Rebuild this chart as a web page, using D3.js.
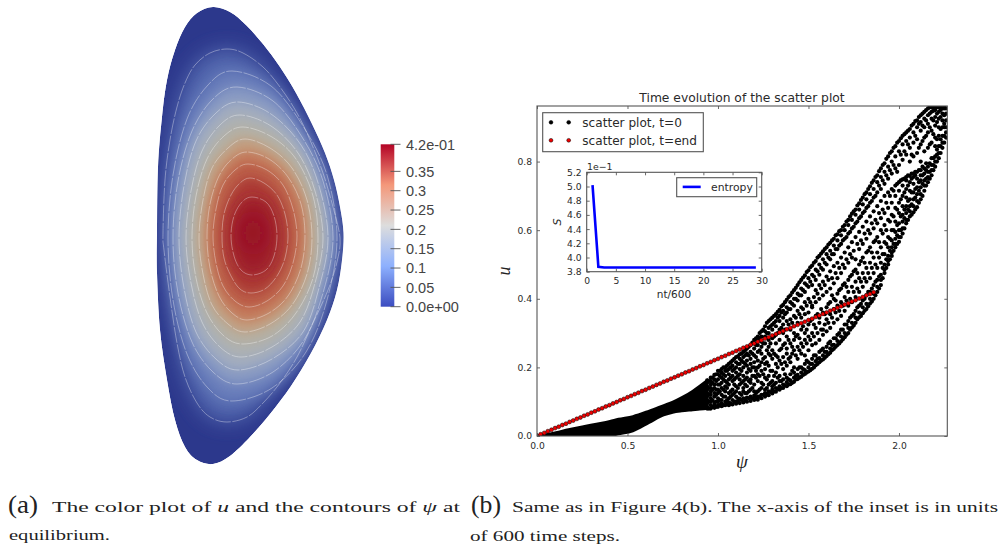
<!DOCTYPE html>
<html>
<head>
<meta charset="utf-8">
<script src="https://cdn.jsdelivr.net/npm/d3@7"></script>
<style>
  html, body { margin: 0; background: #fff; }
  svg { display: block; }
  .mpl text { font-family: "DejaVu Sans", sans-serif; fill: #2a2a2a; }
  .cap { font-family: "Liberation Serif", serif; fill: #222; }
  .math { font-family: "Liberation Serif", serif; font-style: italic; fill: #222; }
</style>
</head>
<body>
<svg id="fig" width="1001" height="547"></svg>
<script>
// ---- left panel, values (r, z in read-off units) ----
const plasmaOutline = [[56,0],[73,5],[89,18],[106,37],[123,60],[139,86],[155,117],[168,146],[177,173],[183,200],[186.5,226],[185,253],[180,283],[170,313],[154,346],[134,379],[113,407],[93,430],[73,449],[56,457],[40,453],[28,440],[18,413],[10,373],[3,323],[0,266],[0,226],[1,160],[5,110],[10,73],[18,43],[28,20],[40,6]];

const contourRings = [
  [[70,42],[86,46],[106,60],[123,80],[140,106],[153,133],[166,166],[176,200],[183,231],[180,255],[171,283],[156,316],[140,350],[123,376],[106,396],[90,410],[70,415],[53,410],[40,396],[28,370],[20,336],[13,290],[7,243],[6,226],[8,173],[13,133],[20,100],[28,76],[38,58],[53,46]],
  [[75,64],[114,79],[146,119],[170,168],[180,231],[170,293],[149,345],[115,381],[75,394],[51,381],[30,347],[16,293],[11,231],[16,168],[30,112],[51,78]],
  [[80,80],[116,94],[145,130],[166,174],[176,231],[166,286],[147,333],[116,365],[80,377],[56,365],[35,335],[21,286],[16,231],[21,174],[35,124],[56,92]],
  [[81,95],[114,107],[144,138],[162,179],[171,231],[162,281],[146,325],[115,352],[81,363],[59,352],[39,325],[27,281],[22,231],[27,179],[39,134],[59,106]],
  [[83,108],[114,119],[141,146],[158,184],[166,231],[158,276],[143,315],[115,340],[84,350],[63,340],[45,315],[34,276],[29,231],[34,184],[45,144],[63,118]],
  [[86,120],[115,130],[139,152],[156,189],[161,231],[156,271],[139,306],[115,329],[86,337],[67,329],[50,306],[39,271],[35,231],[39,189],[50,152],[67,129]],
  [[88,132],[113,141],[135,161],[150,193],[155,231],[150,267],[135,298],[113,317],[88,325],[71,317],[55,298],[46,267],[42,231],[46,193],[55,161],[71,141]],
  [[90,145],[112,152],[131,170],[144,197],[148,229],[144,261],[131,289],[112,306],[90,313],[75,306],[62,289],[53,261],[50,229],[53,197],[62,169],[75,152]],
  [[91,157],[110,163],[126,178],[136,202],[140,229],[136,256],[126,279],[110,294],[92,300],[78,294],[66,279],[59,256],[56,229],[59,202],[66,178],[78,163]],
  [[93,171],[107,176],[120,188],[128,207],[131,229],[128,251],[120,269],[108,282],[94,286],[83,282],[74,269],[67,251],[65,229],[67,207],[74,188],[83,176]],
  [[95,190],[109,195],[117,209],[120,229],[117,249],[109,263],[95,268],[84,263],[77,249],[74,229],[77,209],[85,195]]
];
const ringU = [.07,.10,.13,.155,.18,.205,.24,.275,.31,.35,.385];
const peakRing = [[96,209],[106,226],[96,243],[86,226]];
const peakU = .41;

const fieldLevels = [0,.04,.08,.12,.16,.2,.24,.28,.33,.38,.42];
const fieldColors = ["#2c388c","#3e50a0","#5a6eb4","#7d91c3","#a5afbe","#b4b2a5","#c39b7d","#c37355","#b44b3c","#a0232d","#91051e"];

const barTicks = [0,.05,.1,.15,.2,.25,.3,.35,.42];
const barLabels = ["0.0e+00","0.05","0.1","0.15","0.2","0.25","0.3","0.35","4.2e-01"];
const barLevels = [0,.105,.21,.315,.42];
const barColors = ["#3b4cc0","#8db0fe","#dddddd","#f4987a","#b40426"];

// ---- right panel ----
const denseBandPsi = [0,.08,.16,.25,.35,.403,.45,.53,.62,.70,.75,.80,.86,.90,.94];
const denseBandHigh = [0,.008,.018,.028,.038,.044,.05,.058,.074,.09,.10,.113,.132,.147,.163];
const denseBandLow = [0,0,0,0,0,0,.005,.014,.038,.06,.068,.072,.075,.077,.079];

const scatterColumns = [
  [.94,[.08,.085,.095,.105,.115,.125,.135,.145,.155,.162]],
  [.96,[.08,.09,.10,.11,.12,.13,.14,.15,.16,.17]],
  [.98,[.082,.09,.098,.115,.125,.14,.15,.165,.178]],
  [1.00,[.085,.09,.10,.11,.125,.135,.15,.165,.18,.19]],
  [1.02,[.087,.095,.105,.12,.14,.155,.17,.185,.195]],
  [1.04,[.09,.10,.115,.13,.145,.16,.175,.19,.20]],
  [1.06,[.09,.098,.11,.125,.15,.165,.18,.195,.21]],
  [1.08,[.092,.105,.12,.135,.16,.175,.19,.205,.22]],
  [1.10,[.094,.10,.115,.13,.145,.17,.185,.20,.215,.23]],
  [1.12,[.096,.108,.125,.15,.165,.18,.195,.21,.225,.238]],
  [1.14,[.098,.11,.13,.14,.16,.175,.20,.215,.23,.245]],
  [1.16,[.10,.112,.125,.145,.17,.185,.205,.22,.24,.255]],
  [1.18,[.102,.115,.135,.155,.165,.19,.21,.225,.245,.265]],
  [1.20,[.105,.118,.13,.15,.175,.20,.215,.235,.255,.27,.28]],
  [1.22,[.106,.115,.13,.16,.18,.20,.22,.245,.265,.28,.29]],
  [1.24,[.11,.12,.14,.155,.19,.215,.24,.26,.275,.29,.305]],
  [1.26,[.115,.125,.135,.17,.195,.21,.23,.27,.29,.305,.32]],
  [1.28,[.119,.13,.15,.175,.205,.24,.26,.28,.30,.315,.335]],
  [1.30,[.124,.135,.145,.16,.19,.225,.25,.285,.31,.325,.345]],
  [1.32,[.129,.14,.155,.185,.21,.235,.27,.295,.32,.335,.355]],
  [1.34,[.135,.145,.16,.175,.22,.25,.28,.31,.335,.35,.368]],
  [1.36,[.14,.15,.165,.195,.23,.265,.30,.325,.345,.365,.382]],
  [1.38,[.145,.157,.17,.205,.24,.255,.29,.335,.36,.375,.397]],
  [1.40,[.151,.162,.18,.215,.23,.27,.31,.34,.37,.39,.41]],
  [1.42,[.158,.17,.185,.20,.25,.28,.30,.35,.38,.40,.425]],
  [1.44,[.166,.178,.195,.225,.26,.295,.33,.365,.395,.415,.44]],
  [1.46,[.173,.185,.20,.24,.27,.31,.345,.375,.41,.43,.455]],
  [1.48,[.181,.192,.21,.235,.28,.30,.355,.39,.42,.445,.468]],
  [1.50,[.188,.20,.215,.25,.29,.325,.36,.40,.435,.46,.483]],
  [1.52,[.196,.21,.225,.265,.30,.34,.375,.38,.44,.47,.497]],
  [1.54,[.206,.218,.235,.27,.315,.35,.39,.425,.455,.485,.51]],
  [1.56,[.215,.227,.245,.28,.33,.345,.40,.44,.47,.50,.525]],
  [1.58,[.223,.235,.255,.295,.31,.36,.41,.45,.485,.515,.538]],
  [1.60,[.233,.245,.26,.305,.34,.375,.42,.465,.50,.53,.55]],
  [1.62,[.243,.255,.275,.315,.355,.39,.43,.48,.515,.54,.563]],
  [1.64,[.254,.266,.285,.33,.37,.40,.445,.495,.53,.555,.575]],
  [1.66,[.265,.277,.295,.34,.38,.415,.46,.505,.545,.57,.588]],
  [1.68,[.276,.29,.31,.35,.39,.43,.475,.52,.56,.585,.60]],
  [1.70,[.288,.30,.325,.365,.405,.445,.49,.535,.575,.60,.615]],
  [1.72,[.30,.315,.335,.38,.42,.455,.505,.55,.59,.615,.63]],
  [1.74,[.316,.33,.35,.39,.435,.47,.52,.565,.605,.63,.648]],
  [1.76,[.33,.345,.365,.405,.45,.485,.515,.58,.62,.645,.66]],
  [1.78,[.346,.36,.38,.42,.46,.50,.545,.595,.635,.66,.678]],
  [1.80,[.358,.375,.395,.435,.475,.52,.56,.61,.65,.675,.695]],
  [1.82,[.37,.385,.41,.45,.49,.535,.575,.625,.665,.69,.71]],
  [1.84,[.386,.40,.42,.46,.505,.55,.59,.64,.68,.705,.728]],
  [1.86,[.40,.415,.44,.475,.52,.565,.605,.655,.695,.72,.745]],
  [1.88,[.42,.435,.455,.49,.535,.58,.62,.67,.71,.74,.76]],
  [1.90,[.44,.455,.47,.505,.55,.60,.635,.685,.72,.755,.78]],
  [1.92,[.475,.485,.50,.53,.565,.615,.65,.70,.735,.77,.795]],
  [1.94,[.50,.51,.525,.55,.58,.63,.665,.71,.75,.785,.815]],
  [1.96,[.525,.535,.55,.57,.60,.645,.68,.72,.765,.80,.83]],
  [1.98,[.55,.56,.575,.595,.625,.665,.70,.73,.78,.815,.845]],
  [2.00,[.566,.58,.60,.62,.65,.68,.715,.74,.79,.83,.86]],
  [2.02,[.59,.605,.625,.645,.67,.70,.73,.748,.805,.85,.875]],
  [2.04,[.62,.63,.65,.67,.695,.72,.745,.755,.82,.86,.885]],
  [2.06,[.64,.655,.67,.69,.715,.74,.758,.80,.84,.87,.895]],
  [2.08,[.652,.67,.69,.71,.735,.755,.765,.815,.855,.885,.91]],
  [2.10,[.667,.685,.705,.725,.75,.77,.825,.865,.90,.92]],
  [2.12,[.69,.705,.725,.745,.76,.775,.80,.85,.89,.915,.935]],
  [2.14,[.715,.73,.745,.765,.78,.83,.87,.90,.925,.945]],
  [2.16,[.74,.755,.77,.785,.84,.885,.91,.935,.955]],
  [2.18,[.76,.775,.79,.81,.855,.89,.925,.945,.958]],
  [2.20,[.785,.80,.815,.845,.87,.905,.93,.95,.958]],
  [2.22,[.81,.825,.845,.875,.90,.925,.945,.958]],
  [2.24,[.84,.855,.875,.90,.92,.94,.955]],
  [2.26,[.87,.885,.90,.92,.94,.955]]
];

// second pass over the cloud, between the columns above
const scatterColumnsB = [
  [.95,[.08,.10,.12,.14,.16]],
  [.97,[.085,.105,.135,.155,.17]],
  [.99,[.085,.10,.12,.135,.16,.18]],
  [1.01,[.09,.105,.13,.15,.175,.19]],
  [1.03,[.09,.115,.135,.165,.18,.20]],
  [1.05,[.095,.105,.14,.155,.19,.205]],
  [1.07,[.095,.115,.13,.17,.20,.215]],
  [1.09,[.10,.125,.15,.165,.195,.225]],
  [1.11,[.10,.11,.14,.175,.21,.232]],
  [1.13,[.105,.12,.155,.19,.22,.24]],
  [1.15,[.105,.125,.15,.165,.21,.235,.25]],
  [1.17,[.11,.13,.16,.195,.235,.26]],
  [1.19,[.11,.14,.175,.20,.24,.272]],
  [1.21,[.112,.125,.17,.19,.23,.265,.285]],
  [1.23,[.115,.135,.175,.205,.25,.285,.30]],
  [1.25,[.12,.15,.18,.225,.27,.31]],
  [1.27,[.122,.14,.165,.215,.25,.30,.33]],
  [1.29,[.128,.155,.19,.235,.27,.32,.34]],
  [1.31,[.13,.15,.175,.24,.29,.33,.35]],
  [1.33,[.137,.17,.20,.23,.30,.345,.362]],
  [1.35,[.14,.16,.21,.255,.315,.36,.378]],
  [1.37,[.148,.18,.215,.27,.31,.355,.39]],
  [1.39,[.15,.165,.225,.28,.325,.37,.405]],
  [1.41,[.155,.19,.24,.26,.33,.385,.418]],
  [1.43,[.165,.175,.235,.29,.345,.40,.432]],
  [1.45,[.17,.20,.25,.285,.355,.41,.448]],
  [1.47,[.178,.195,.26,.32,.37,.425,.462]],
  [1.49,[.185,.22,.27,.31,.38,.44,.478]],
  [1.51,[.192,.21,.28,.335,.39,.45,.492]],
  [1.53,[.20,.235,.29,.325,.405,.465,.505]],
  [1.55,[.21,.225,.30,.355,.415,.48,.52]],
  [1.57,[.22,.25,.31,.37,.43,.49,.532]],
  [1.59,[.228,.245,.325,.355,.44,.505,.545]],
  [1.61,[.238,.27,.33,.385,.455,.52,.558]],
  [1.63,[.25,.265,.345,.41,.46,.53,.57]],
  [1.65,[.26,.285,.36,.395,.475,.545,.585]],
  [1.67,[.27,.30,.365,.425,.49,.555,.597]],
  [1.69,[.282,.31,.38,.44,.50,.57,.61]],
  [1.71,[.295,.325,.395,.435,.515,.58,.625]],
  [1.73,[.31,.345,.40,.465,.53,.595,.64]],
  [1.75,[.322,.355,.42,.48,.54,.61,.655]],
  [1.77,[.34,.375,.43,.475,.56,.625,.672]],
  [1.79,[.35,.385,.45,.51,.57,.64,.688]],
  [1.81,[.365,.40,.46,.505,.59,.655,.705]],
  [1.83,[.378,.42,.475,.54,.60,.67,.72]],
  [1.85,[.392,.43,.49,.535,.62,.685,.738]],
  [1.87,[.41,.45,.50,.57,.63,.70,.755]],
  [1.89,[.43,.465,.52,.565,.65,.73,.772]],
  [1.91,[.46,.49,.53,.59,.66,.745,.79]],
  [1.93,[.49,.515,.56,.60,.68,.76,.808]],
  [1.95,[.515,.54,.575,.625,.70,.775,.825]],
  [1.97,[.54,.56,.60,.64,.715,.79,.84]],
  [1.99,[.56,.585,.615,.66,.735,.77,.855]],
  [2.01,[.58,.60,.64,.69,.745,.82,.868]],
  [2.03,[.605,.635,.66,.71,.75,.83,.88]],
  [2.05,[.63,.66,.685,.73,.76,.85,.89]],
  [2.07,[.645,.675,.71,.75,.765,.82,.905]],
  [2.09,[.66,.695,.72,.76,.77,.875,.918]],
  [2.11,[.68,.715,.74,.775,.84,.91,.93]],
  [2.13,[.70,.735,.76,.785,.86,.905,.94]],
  [2.15,[.73,.75,.775,.795,.875,.92,.95]],
  [2.17,[.75,.77,.795,.85,.90,.94,.958]],
  [2.19,[.775,.79,.81,.88,.92,.948,.958]],
  [2.21,[.80,.82,.835,.865,.915,.94,.958]],
  [2.23,[.825,.845,.865,.895,.93,.95,.958]],
  [2.25,[.855,.875,.90,.91,.935,.955,.958]]
];

const endPsi = [0,.02,.04,.06,.08,.10,.12,.14,.16,.18,.20,.22,.24,.26,.28,.30,.32,.34,.36,.38,.40,.42,.44,.46,.48,.50,.52,.54,.56,.58,.60,.62,.64,.66,.68,.70,.72,.74,.76,.78,.80,.82,.84,.86,.88,.90,.92,.94,.96,.98,1.00,1.02,1.04,1.06,1.08,1.10,1.12,1.14,1.16,1.18,1.20,1.22,1.24,1.26,1.28,1.30,1.32,1.34,1.36,1.38,1.40,1.42,1.44,1.46,1.48,1.50,1.52,1.54,1.56,1.58,1.60,1.62,1.64,1.66,1.68,1.70,1.72,1.74,1.76,1.78,1.80,1.82,1.84,1.86];
const endU = [0,.005,.009,.014,.018,.023,.027,.032,.036,.041,.045,.05,.054,.059,.063,.068,.072,.077,.081,.086,.09,.095,.099,.104,.108,.113,.117,.122,.126,.131,.135,.14,.144,.149,.153,.158,.162,.167,.171,.176,.18,.185,.189,.194,.198,.203,.207,.212,.216,.221,.225,.23,.234,.239,.243,.248,.252,.257,.261,.266,.27,.275,.279,.284,.288,.293,.297,.302,.306,.311,.315,.32,.324,.329,.333,.338,.342,.347,.351,.356,.36,.365,.369,.374,.378,.383,.387,.392,.396,.401,.405,.41,.414,.419];

const psiTicks = [0,.5,1,1.5,2];
const uTicks = [0,.2,.4,.6,.8];

const stepLabels = [1,2,3,5,8,12,16,20,24,29];
const entropyValues = [5.02,3.87,3.86,3.86,3.86,3.86,3.86,3.86,3.86,3.86];
const stepTicks = [0,5,10,15,20,25,30];
const entropyTicks = [3.8,4.0,4.2,4.4,4.6,4.8,5.0,5.2];

const scatterNames = ["scatter plot, t=0","scatter plot, t=end"];

// ---- drawing ----
let svg = d3.select("#fig");
let defs = svg.append("defs");

// left panel: nested filled rings, softened, then the contour lines on top
let rScale = d3.scaleLinear().domain([0,187]).range([157,344]);
let zScale = d3.scaleLinear().domain([0,457]).range([7,464]);
let fieldColor = d3.scaleLinear().domain(fieldLevels).range(fieldColors);
let ringLine = d3.line().x(d => rScale(d[0])).y(d => zScale(d[1])).curve(d3.curveCatmullRomClosed.alpha(0));

defs.append("clipPath").attr("id","plasmaClip").append("path").attr("d", ringLine(plasmaOutline));

let blurs = [10,7,5,4,4,4,4,4,4,5,6,9];
blurs.forEach(function(s, i) {
  defs.append("filter").attr("id","blur"+i)
    .attr("filterUnits","userSpaceOnUse").attr("x",100).attr("y",-50).attr("width",300).attr("height",570)
    .append("feGaussianBlur").attr("stdDeviation", s);
});

let field = svg.append("g").attr("clip-path","url(#plasmaClip)");
field.append("path").attr("d", ringLine(plasmaOutline)).attr("fill", fieldColor(0));
let fills = contourRings.concat([peakRing]);
let fillU = ringU.concat([peakU]);
field.selectAll("path.fill").data(fills).enter().append("path")
  .attr("class","fill")
  .attr("d", ringLine)
  .attr("fill", (d, i) => fieldColor(fillU[i]))
  .attr("filter", (d, i) => `url(#blur${i})`);
field.selectAll("path.contour").data(contourRings).enter().append("path")
  .attr("class","contour")
  .attr("d", ringLine)
  .attr("fill","none")
  .attr("stroke","#fff")
  .attr("stroke-opacity",0.5)
  .attr("stroke-width",0.7)
  .attr("stroke-dasharray","16 1.5");

// colorbar
let barScale = d3.scaleLinear().domain([0,.42]).range([306.7,144.3]);
let grad = defs.append("linearGradient").attr("id","barGrad").attr("x1",0).attr("y1",1).attr("x2",0).attr("y2",0);
barLevels.forEach(function(v, i) {
  grad.append("stop").attr("offset", v / .42).attr("stop-color", barColors[i]);
});
svg.append("rect").attr("x",380.7).attr("width",13.6)
  .attr("y", barScale(.42)).attr("height", barScale(0) - barScale(.42))
  .attr("fill","url(#barGrad)");
let barAxis = svg.append("g")
  .selectAll("g").data(barTicks).enter().append("g")
  .attr("transform", d => `translate(0,${barScale(d)})`);
barAxis.append("line").attr("x1",390.5).attr("x2",400.5)
  .attr("stroke","#555").attr("stroke-width",0.9);
barAxis.append("text").text((d, i) => barLabels[i])
  .attr("x",406).attr("dy","0.36em")
  .attr("font-family","'Liberation Sans', sans-serif").attr("font-size",14.5).attr("fill","#444");

// right panel, main axes
let main = svg.append("g").attr("class","mpl");
let psiScale = d3.scaleLinear().domain([0,2.267]).range([537,947.3]);
let uScale = d3.scaleLinear().domain([0,.962]).range([436,106]);

defs.append("clipPath").attr("id","mainClip").append("rect")
  .attr("x",537).attr("y",106).attr("width",410.3).attr("height",330);

let marks = main.append("g").attr("clip-path","url(#mainClip)");
let bandRows = denseBandPsi.map((p, i) => [p, denseBandLow[i], denseBandHigh[i]]);
marks.append("path").datum(bandRows)
  .attr("d", d3.area().x(d => psiScale(d[0])).y0(d => uScale(d[1])).y1(d => uScale(d[2])).curve(d3.curveMonotoneX))
  .attr("fill","#000").attr("stroke","#000").attr("stroke-width",2);

let scatterPts = scatterColumns.concat(scatterColumnsB).flatMap(c => c[1].map(u => [c[0], u]));
marks.selectAll("circle.start").data(scatterPts).enter().append("circle")
  .attr("class","start")
  .attr("cx", d => psiScale(d[0])).attr("cy", d => uScale(d[1])).attr("r",2.1)
  .attr("fill","#000");
marks.selectAll("circle.end").data(endPsi).enter().append("circle")
  .attr("class","end")
  .attr("cx", d => psiScale(d)).attr("cy", (d, i) => uScale(endU[i])).attr("r",2)
  .attr("fill","#f00000").attr("stroke","#000").attr("stroke-width",0.5);

function styleAxis(g, size) {
  g.select(".domain").remove();
  g.selectAll(".tick line").attr("stroke","#444").attr("stroke-width",0.8);
  g.selectAll(".tick text").attr("font-size",size).attr("fill","#2a2a2a")
    .attr("font-family","'DejaVu Sans', sans-serif");
}

function drawAxes(parent, xs, ys, xTicks, yTicks, xFmt, yFmt, tickLen) {
  let [x0, x1] = xs.range();
  let [y0, y1] = ys.range();
  parent.append("g").attr("transform",`translate(0,${y0})`)
    .call(d3.axisBottom(xs).tickValues(xTicks).tickFormat(xFmt).tickSizeInner(-tickLen).tickPadding(6).tickSizeOuter(0))
    .call(styleAxis, 9.2);
  parent.append("g").attr("transform",`translate(0,${y1})`)
    .call(d3.axisTop(xs).tickValues(xTicks).tickFormat("").tickSizeInner(-tickLen).tickSizeOuter(0))
    .call(styleAxis, 9.2);
  parent.append("g").attr("transform",`translate(${x0},0)`)
    .call(d3.axisLeft(ys).tickValues(yTicks).tickFormat(yFmt).tickSizeInner(-tickLen).tickPadding(5).tickSizeOuter(0))
    .call(styleAxis, 9.2);
  parent.append("g").attr("transform",`translate(${x1},0)`)
    .call(d3.axisRight(ys).tickValues(yTicks).tickFormat("").tickSizeInner(-tickLen).tickSizeOuter(0))
    .call(styleAxis, 9.2);
  parent.append("rect").attr("x",x0).attr("y",y1).attr("width",x1-x0).attr("height",y0-y1)
    .attr("fill","none").attr("stroke","#555").attr("stroke-width",1.1);
}
drawAxes(main, psiScale, uScale, psiTicks, uTicks, d3.format(".1f"), d3.format(".1f"), 3);

main.append("text").text("Time evolution of the scatter plot")
  .attr("x",742).attr("y",102).attr("text-anchor","middle").attr("font-size",12.3);
svg.append("text").attr("class","math").text("ψ").attr("x",742).attr("y",468)
  .attr("text-anchor","middle").attr("font-size",19);
svg.append("text").attr("class","math").text("u").attr("font-size",18)
  .attr("text-anchor","middle").attr("transform","translate(510,271) rotate(-90)");

// main legend
main.append("rect").attr("x",542.7).attr("y",112.7).attr("width",160.6).attr("height",39)
  .attr("fill","#fff").attr("stroke","#555").attr("stroke-width",1.1);
let legendRows = main.selectAll("g.lrow").data(scatterNames).enter().append("g").attr("class","lrow")
  .attr("transform",(d, i) => `translate(0,${122.3 + i*18})`);
[551,568.7].forEach(function(mx) {
  legendRows.append("circle").attr("cx",mx).attr("r",1.9)
    .attr("fill",(d, i) => i ? "#f00000" : "#000").attr("stroke","#000").attr("stroke-width",0.5);
});
legendRows.append("text").text(d => d).attr("x",582.3).attr("dy","0.36em").attr("font-size",12.1);

// inset
let inset = svg.append("g").attr("class","mpl");
let stepScale = d3.scaleLinear().domain([0,30]).range([586.7,761.7]);
let entropyScale = d3.scaleLinear().domain([3.8,5.2]).range([271.7,172.3]);
inset.append("rect").attr("x",586.7).attr("y",172.3).attr("width",175).attr("height",99.4).attr("fill","#fff");
inset.append("path").datum(stepLabels)
  .attr("d", d3.line().x(d => stepScale(d)).y((d, i) => entropyScale(entropyValues[i])))
  .attr("fill","none").attr("stroke","#0000ff").attr("stroke-width",2.6);
drawAxes(inset, stepScale, entropyScale, stepTicks, entropyTicks, d3.format("d"), d3.format(".1f"), 3);

inset.append("text").text("1e\u22121").attr("x",587).attr("y",170).attr("font-size",9.4);
inset.append("text").text("nt/600").attr("x",674).attr("y",298).attr("text-anchor","middle").attr("font-size",10.5);
inset.append("text").text("S").attr("font-size",11).attr("font-style","italic")
  .attr("text-anchor","middle").attr("transform","translate(561,222) rotate(-90)");

inset.append("rect").attr("x",676.7).attr("y",177.7).attr("width",80).attr("height",19)
  .attr("fill","#fff").attr("stroke","#555").attr("stroke-width",1.1);
inset.append("line").attr("x1",682.7).attr("x2",700.7).attr("y1",186.9).attr("y2",186.9)
  .attr("stroke","#0000ff").attr("stroke-width",2.6);
inset.append("text").text("entropy").attr("x",711).attr("y",186.9).attr("dy","0.36em").attr("font-size",10.8);

// captions
function caption(x, y, width, parts, size) {
  let t = svg.append("text").attr("class","cap").attr("x",x).attr("y",y)
    .attr("font-size",size || 14.5).attr("textLength",width).attr("lengthAdjust","spacingAndGlyphs");
  parts.forEach(function(p) {
    let s = t.append("tspan").text(p.replace(/^_/, ""));
    if (p[0] === "_") s.attr("font-style","italic");
  });
}
caption(8,513,30,["(a)"],25);
caption(52,512,408,["The color plot of ","_u"," and the contours of ","_ψ"," at"]);
caption(9,540,101,["equilibrium."]);
caption(471,513,30,["(b)"],25);
caption(512,512,486,["Same as in Figure 4(b).  The x-axis of the inset is in units"]);
caption(470,541,150,["of 600 time steps."]);
</script>
</body>
</html>
